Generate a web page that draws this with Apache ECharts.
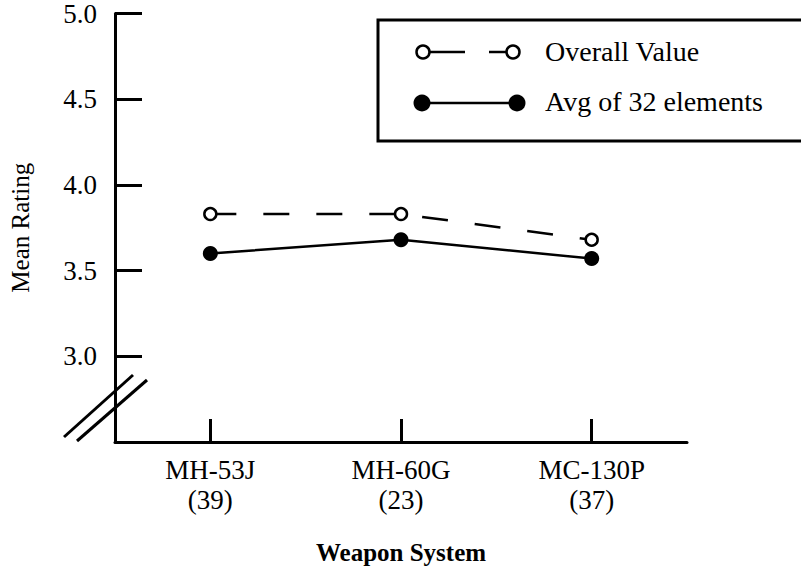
<!DOCTYPE html>
<html>
<head>
<meta charset="utf-8">
<script src="https://cdn.jsdelivr.net/npm/echarts@6/dist/echarts.min.js"></script>
<style>html,body{margin:0;padding:0;background:#fff}#c{width:801px;height:575px}</style>
</head>
<body>
<div id="c"></div>
<script>
const categories = ['MH-53J\n(39)', 'MH-60G\n(23)', 'MC-130P\n(37)'];
const overallValue = [3.83, 3.83, 3.68];
const avgOf32 = [3.60, 3.68, 3.57];
const seriesNames = ['Overall Value', 'Avg of 32 elements'];
const yTicks = [2.5, 3.0, 3.5, 4.0, 4.5, 5.0];

const FONT = '"Liberation Serif", "DejaVu Serif", serif';
const chart = echarts.init(document.getElementById('c'), null, {renderer: 'svg'});
const option = {
  backgroundColor: '#fff',
  animation: false,
  textStyle: {fontFamily: FONT, color: '#000'},
  grid: {left: 112, right: 114, top: 10, bottom: 133, containLabel: false},
  xAxis: {
    type: 'category',
    data: categories,
    boundaryGap: true,
    axisLine: {lineStyle: {color: '#000', width: 3}},
    axisTick: {show: true, inside: true, alignWithLabel: true, length: 23, lineStyle: {color: '#000', width: 3}},
    axisLabel: {color: '#000', fontFamily: FONT, fontSize: 27, lineHeight: 30, margin: 13},
    splitLine: {show: false},
    name: 'Weapon System',
    nameLocation: 'middle',
    nameGap: 98,
    nameTextStyle: {color: '#000', fontFamily: FONT, fontSize: 25, fontWeight: 'bold'}
  },
  yAxis: {
    type: 'value',
    min: yTicks[0],
    max: yTicks[yTicks.length - 1],
    interval: 0.5,
    axisLine: {show: true, lineStyle: {color: '#000', width: 3}},
    axisTick: {show: true, inside: true, length: 27, lineStyle: {color: '#000', width: 3},
      customValues: yTicks.slice(1)},
    axisLabel: {color: '#000', fontFamily: FONT, fontSize: 27, margin: 18,
      customValues: yTicks.slice(1),
      formatter: v => (v <= yTicks[0] ? '' : v.toFixed(1))},
    splitLine: {show: false},
    name: 'Mean Rating',
    nameLocation: 'middle',
    nameGap: 82,
    nameTextStyle: {color: '#000', fontFamily: FONT, fontSize: 25}
  },
  series: [
    {
      name: seriesNames[0],
      type: 'line',
      data: overallValue,
      symbol: 'circle',
      symbolSize: 12,
      itemStyle: {color: '#fff', borderColor: '#000', borderWidth: 2.5},
      lineStyle: {color: '#000', width: 2.5, type: [26, 27]},
      z: 3
    },
    {
      name: seriesNames[1],
      type: 'line',
      data: avgOf32,
      symbol: 'circle',
      symbolSize: 15,
      itemStyle: {color: '#000', borderColor: '#000', borderWidth: 0},
      lineStyle: {color: '#000', width: 2.5, type: 'solid'},
      z: 3
    }
  ],
  graphic: [
    // axis break marks
    {type: 'line', shape: {x1: 64, y1: 437, x2: 133, y2: 375}, style: {stroke: '#000', lineWidth: 3}},
    {type: 'line', shape: {x1: 77, y1: 441, x2: 147, y2: 380}, style: {stroke: '#000', lineWidth: 3}},
    // legend box
    {type: 'rect', shape: {x: 378, y: 20, width: 440, height: 121}, style: {fill: '#fff', stroke: '#000', lineWidth: 3}, z: 10},
    // legend row 1: Overall Value
    {type: 'line', shape: {x1: 430, y1: 52, x2: 465, y2: 52}, style: {stroke: '#000', lineWidth: 2.5}, z: 11},
    {type: 'line', shape: {x1: 489, y1: 52, x2: 507, y2: 52}, style: {stroke: '#000', lineWidth: 2.5}, z: 11},
    {type: 'circle', shape: {cx: 423, cy: 52, r: 6.5}, style: {fill: '#fff', stroke: '#000', lineWidth: 2.5}, z: 12},
    {type: 'circle', shape: {cx: 513, cy: 52, r: 6.5}, style: {fill: '#fff', stroke: '#000', lineWidth: 2.5}, z: 12},
    {type: 'text', x: 545, y: 51, style: {text: seriesNames[0], font: '28px ' + FONT, fill: '#000', textVerticalAlign: 'middle', verticalAlign: 'middle'}, z: 12},
    // legend row 2: Avg of 32 elements
    {type: 'line', shape: {x1: 422, y1: 103, x2: 517, y2: 103}, style: {stroke: '#000', lineWidth: 2.5}, z: 11},
    {type: 'circle', shape: {cx: 422, cy: 103, r: 8.5}, style: {fill: '#000'}, z: 12},
    {type: 'circle', shape: {cx: 517, cy: 103, r: 8.5}, style: {fill: '#000'}, z: 12},
    {type: 'text', x: 545, y: 101, style: {text: seriesNames[1], font: '28px ' + FONT, fill: '#000', textVerticalAlign: 'middle', verticalAlign: 'middle'}, z: 12}
  ]
};
chart.setOption(option);
</script>
</body>
</html>
